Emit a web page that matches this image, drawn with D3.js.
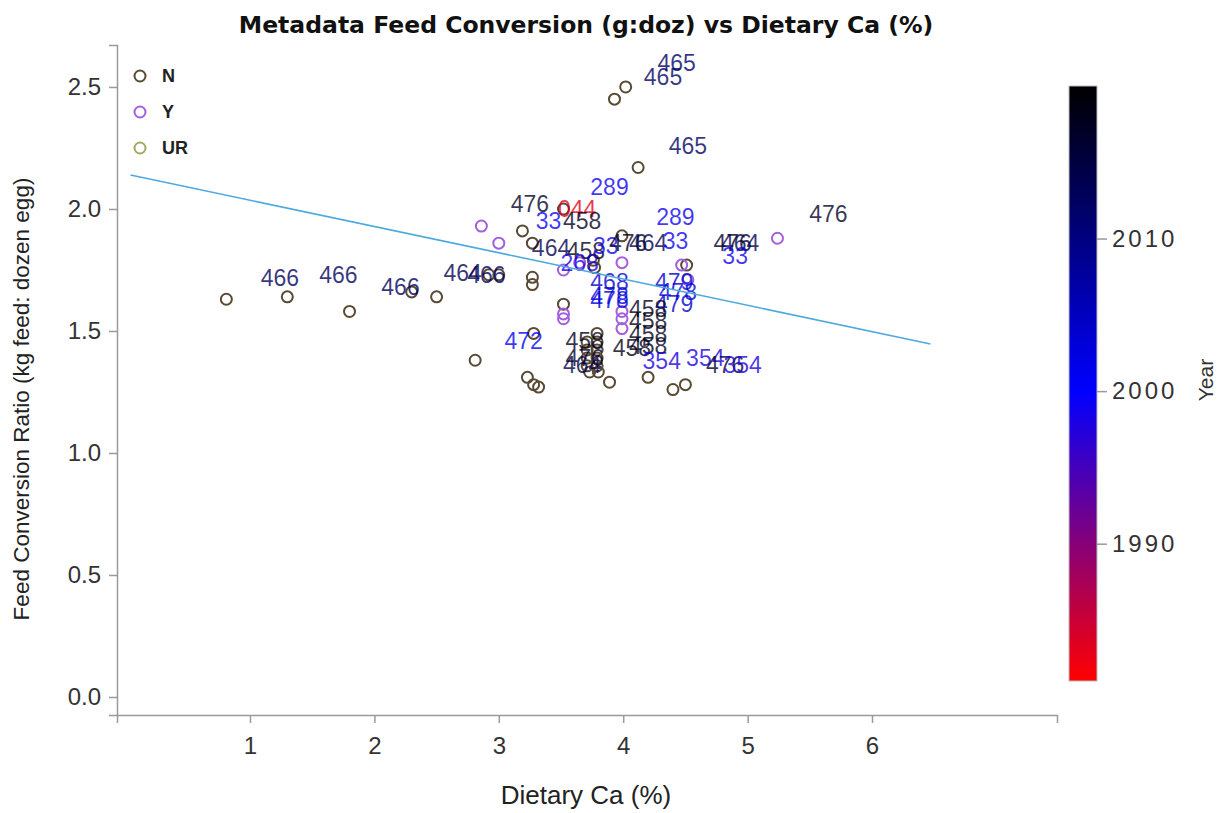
<!DOCTYPE html>
<html>
<head>
<meta charset="utf-8">
<script src="https://cdn.jsdelivr.net/npm/d3@7"></script>
<style>
  html, body { margin: 0; padding: 0; background: #fff; }
  svg { display: block; font-family: "Liberation Sans", Arial, sans-serif; }
</style>
</head>
<body>
<svg id="chart" width="1223" height="813"></svg>
<script>
// ---- Data ----
const groupNames = ["N", "Y", "UR"];
const groupColors = ["#5a4a35", "#a25fe0", "#a9a862"];

// Individual observations: dietary Ca (%), feed conversion ratio, group
const pointCa = [
  0.81, 1.30, 1.80, 2.30, 2.50, 2.81, 2.92, 3.00, 3.27, 3.27, 3.19, 3.27, 3.52, 3.77, 3.76,
  3.93, 4.02, 4.12, 3.99, 4.51, 3.52, 3.28, 3.23, 3.28, 3.32, 3.79,
  3.71, 3.79, 3.71, 3.79, 3.71, 3.79, 3.71, 3.79, 3.73, 3.80,
  3.89, 4.20, 4.40, 4.50,
  2.86, 3.00, 3.52, 3.65, 3.99, 4.47, 4.52, 3.52, 3.52, 3.99, 3.99, 3.99, 5.24
];
const pointFcr = [
  1.63, 1.64, 1.58, 1.66, 1.64, 1.38, 1.73, 1.73, 1.72, 1.69, 1.91, 1.86, 2.00, 1.76, 1.79,
  2.45, 2.50, 2.17, 1.89, 1.77, 1.61, 1.49, 1.31, 1.28, 1.27, 1.49,
  1.455, 1.455, 1.422, 1.422, 1.389, 1.389, 1.357, 1.357, 1.332, 1.332,
  1.29, 1.31, 1.26, 1.28,
  1.93, 1.86, 1.75, 1.78, 1.78, 1.77, 1.71, 1.57, 1.55, 1.58, 1.55, 1.51, 1.88
];
const pointGroup = [
  "N", "N", "N", "N", "N", "N", "N", "N", "N", "N", "N", "N", "N", "N", "N",
  "N", "N", "N", "N", "N", "N", "N", "N", "N", "N", "N",
  "N", "N", "N", "N", "N", "N", "N", "N", "N", "N",
  "N", "N", "N", "N",
  "Y", "Y", "Y", "Y", "Y", "Y", "Y", "Y", "Y", "Y", "Y", "Y", "Y"
];

// Reference labels: position, reference number and publication year
const labelCa = [
  4.43, 4.32, 4.52, 3.89, 4.42, 3.25, 3.63, 3.40, 3.67, 5.65,
  3.42, 3.70, 3.65, 3.86, 4.04, 4.20, 4.42, 4.88, 4.94, 4.90,
  1.24, 1.71, 2.21, 2.71, 2.90,
  3.89, 3.89, 3.89, 4.41, 4.41, 4.44,
  3.69, 3.20, 4.20, 4.20, 4.20, 4.20, 4.07,
  3.69, 3.67, 4.31, 4.66, 4.82, 4.96
];
const labelFcr = [
  2.60, 2.54, 2.26, 2.09, 1.97, 2.02, 2.00, 1.95, 1.95, 1.98,
  1.84, 1.83, 1.78, 1.85, 1.86, 1.86, 1.87, 1.86, 1.86, 1.81,
  1.72, 1.73, 1.68, 1.74, 1.73,
  1.70, 1.645, 1.63, 1.70, 1.61, 1.66,
  1.46, 1.46, 1.59, 1.54, 1.49, 1.44, 1.43,
  1.39, 1.36, 1.38, 1.39, 1.36, 1.36
];
const labelRef = [
  "465", "465", "465", "289", "289", "476", "044", "33", "458", "476",
  "464", "458", "268", "33", "476", "464", "33", "476", "464", "33",
  "466", "466", "466", "464", "466",
  "468", "478", "478", "479", "479", "478",
  "458", "472", "458", "458", "458", "458", "458",
  "476", "464", "354", "354", "476", "354"
];
const labelYear = [
  2012, 2012, 2012, 1999, 1999, 2017, 1983, 1999, 2018, 2017,
  2014, 2018, 1998, 1999, 2017, 2014, 1999, 2017, 2014, 1999,
  2013, 2013, 2013, 2014, 2013,
  2004, 2003, 2003, 2004, 2004, 2003,
  2018, 2000, 2018, 2018, 2018, 2018, 2018,
  2017, 2014, 1998, 1998, 2017, 1998
];

// Fitted regression line end points
const fitCa = [0.04, 6.47];
const fitFcr = [2.139, 1.447];

// Axis ticks
const xTicks = [1, 2, 3, 4, 5, 6];
const yTicks = [0.0, 0.5, 1.0, 1.5, 2.0, 2.5];
const yearTicks = [1990, 2000, 2010];
const yearDomain = [1981, 2000, 2020];

// ---- Layout ----
const svg = d3.select("#chart");
const plot = { left: 117, right: 1057, top: 45, bottom: 715 };

const x = d3.scaleLinear().domain([-0.069, 7.487]).range([plot.left, plot.right]);
const y = d3.scaleLinear().domain([-0.0738, 2.672]).range([plot.bottom, plot.top]);
const yearColor = d3.scaleLinear().domain(yearDomain).range(["#ff0000", "#0000ff", "#000000"]);
const groupColor = d3.scaleOrdinal().domain(groupNames).range(groupColors);

// Title
svg.append("text")
  .attr("x", 586).attr("y", 33)
  .attr("text-anchor", "middle")
  .attr("font-family", "'DejaVu Sans', Verdana, sans-serif")
  .attr("font-size", 23.5).attr("font-weight", "bold")
  .attr("fill", "#111")
  .text("Metadata Feed Conversion (g:doz) vs Dietary Ca (%)");

// Axes
const axisColor = "#9a9a9a";
const xAxis = svg.append("g")
  .attr("transform", `translate(0,${plot.bottom})`)
  .call(d3.axisBottom(x).tickValues(xTicks).tickFormat(d3.format("d")).tickSizeOuter(0).tickSize(8).tickPadding(14));
const yAxis = svg.append("g")
  .attr("transform", `translate(${plot.left},0)`)
  .call(d3.axisLeft(y).tickValues(yTicks).tickFormat(d3.format(".1f")).tickSizeOuter(0).tickSize(8).tickPadding(8));

[xAxis, yAxis].forEach(g => {
  g.attr("font-size", null).attr("font-family", null);
  g.select(".domain").attr("stroke", axisColor).attr("stroke-width", 1.5);
  g.selectAll(".tick line").attr("stroke", axisColor).attr("stroke-width", 1.5);
  g.selectAll(".tick text").attr("fill", "#333").style("font-size", "24px")
    .style("font-family", "'Liberation Sans', Arial, sans-serif");
});

svg.append("text")
  .attr("x", 586).attr("y", 804)
  .attr("text-anchor", "middle")
  .attr("font-size", 26).attr("fill", "#222")
  .text("Dietary Ca (%)");

svg.append("text")
  .attr("transform", `translate(29,${(plot.top + plot.bottom) / 2 + 19}) rotate(-90)`)
  .attr("text-anchor", "middle")
  .attr("font-size", 22.5).attr("fill", "#222")
  .text("Feed Conversion Ratio (kg feed: dozen egg)");

// Observation markers
const pts = d3.range(pointCa.length).map(i => ({ ca: pointCa[i], fcr: pointFcr[i], g: pointGroup[i] }));
svg.append("g").selectAll("circle")
  .data(pts).join("circle")
  .attr("cx", d => x(d.ca)).attr("cy", d => y(d.fcr))
  .attr("r", 5.5)
  .attr("fill", "none")
  .attr("stroke", d => groupColor(d.g))
  .attr("stroke-width", 2);

// Reference number labels coloured by year
const labels = d3.range(labelCa.length).map(i => ({ ca: labelCa[i], fcr: labelFcr[i], ref: labelRef[i], yr: labelYear[i] }));
svg.append("g").selectAll("text")
  .data(labels).join("text")
  .attr("x", d => x(d.ca)).attr("y", d => y(d.fcr))
  .attr("dy", "0.36em")
  .attr("text-anchor", "middle")
  .attr("font-size", 23)
  .attr("fill", d => yearColor(d.yr))
  .attr("fill-opacity", 0.78)
  .text(d => d.ref);

// Regression fit
svg.append("line")
  .attr("x1", x(fitCa[0])).attr("y1", y(fitFcr[0]))
  .attr("x2", x(fitCa[1])).attr("y2", y(fitFcr[1]))
  .attr("stroke", "#4ea9df").attr("stroke-width", 1.6);

// Group legend
const legend = svg.append("g").attr("transform", "translate(140,76)");
groupNames.forEach((g, i) => {
  legend.append("circle")
    .attr("cx", 0).attr("cy", i * 36).attr("r", 5.5)
    .attr("fill", "none").attr("stroke", groupColor(g)).attr("stroke-width", 2);
  legend.append("text")
    .attr("x", 22).attr("y", i * 36).attr("dy", "0.35em")
    .attr("font-size", 18).attr("font-weight", "bold").attr("fill", "#222")
    .text(g);
});

// Year colour bar
const bar = { x: 1069, w: 28, top: 86, bottom: 681 };
const yearScale = d3.scaleLinear().domain([yearDomain[0], yearDomain[2]]).range([bar.bottom, bar.top]);
const defs = svg.append("defs");
const grad = defs.append("linearGradient").attr("id", "yearGrad")
  .attr("x1", 0).attr("y1", 1).attr("x2", 0).attr("y2", 0);
yearDomain.forEach(v => {
  grad.append("stop")
    .attr("offset", (v - yearDomain[0]) / (yearDomain[2] - yearDomain[0]))
    .attr("stop-color", yearColor(v));
});
svg.append("rect")
  .attr("x", bar.x).attr("y", bar.top)
  .attr("width", bar.w).attr("height", bar.bottom - bar.top)
  .attr("fill", "url(#yearGrad)")
  .attr("stroke", "#bbb").attr("stroke-width", 1);

const yearAxis = svg.append("g")
  .attr("transform", `translate(${bar.x + bar.w},0)`)
  .call(d3.axisRight(yearScale).tickValues(yearTicks).tickFormat(d3.format("d")).tickSize(10).tickPadding(5));
yearAxis.attr("font-size", null).attr("font-family", null);
yearAxis.select(".domain").remove();
yearAxis.selectAll(".tick line").attr("stroke", axisColor).attr("stroke-width", 1.5);
yearAxis.selectAll(".tick text").attr("fill", "#333").style("font-size", "24px")
  .attr("letter-spacing", 3)
  .style("font-family", "'Liberation Sans', Arial, sans-serif");

svg.append("text")
  .attr("transform", `translate(1213,380) rotate(-90)`)
  .attr("text-anchor", "middle")
  .attr("font-size", 21).attr("fill", "#333")
  .text("Year");
</script>
</body>
</html>
